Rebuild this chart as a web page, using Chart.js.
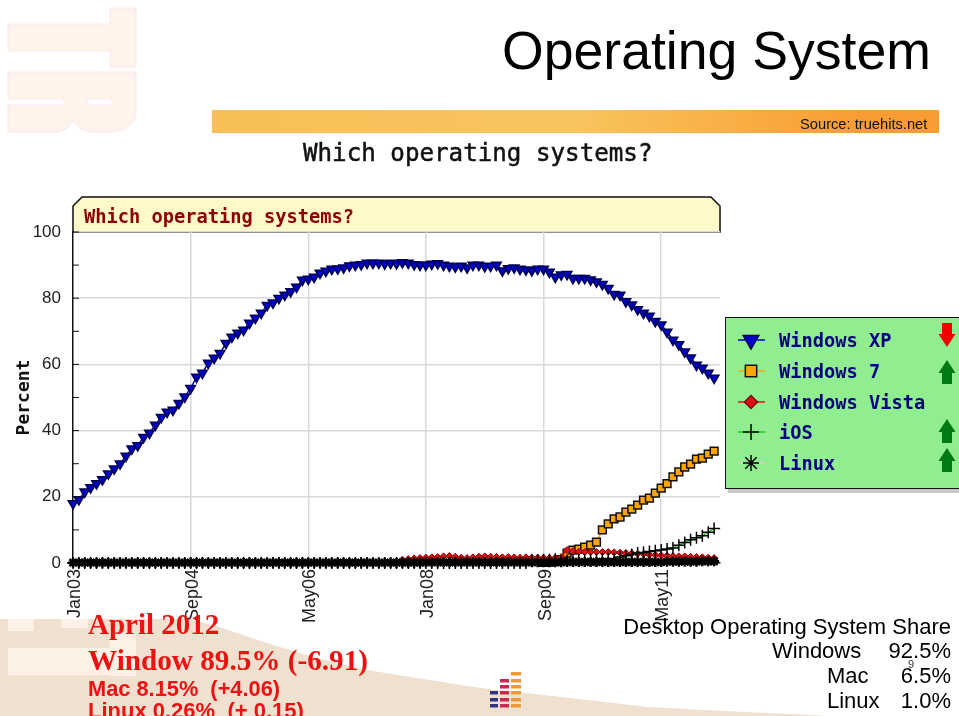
<!DOCTYPE html>
<html>
<head>
<meta charset="utf-8">
<title>Operating System</title>
<script src="https://cdn.jsdelivr.net/npm/chart.js@4"></script>
<style>
html, body { margin: 0; padding: 0; background: #fff; }
#page { position: relative; width: 959px; height: 716px; overflow: hidden; font-family: "Liberation Sans", sans-serif; }
#page > * { position: absolute; }
#bg { left: 0; top: 0; z-index: 0; }
#legendBox { left: 725px; top: 317px; width: 240px; height: 170px; background: #90ee90; border: 1.5px solid #111; box-shadow: 3px 4px 0 #c8c8c8; z-index: 1; }
#cv { left: 0; top: 0; z-index: 2; }
.t { white-space: nowrap; z-index: 3; line-height: 1; }
.pix { font-family: "DejaVu Sans Mono", monospace; font-weight: bold; font-size: 18.7px; }
.r { text-align: right; }
</style>
</head>
<body>
<div id="page">
  <svg id="bg" width="959" height="716">
    <defs>
      <linearGradient id="band" x1="0" x2="1" y1="0" y2="0">
        <stop offset="0" stop-color="#f8bf58"/>
        <stop offset="0.5" stop-color="#f9c45e"/>
        <stop offset="0.9" stop-color="#f99c32"/>
        <stop offset="1" stop-color="#f99c32"/>
      </linearGradient>
    </defs>
    <g fill="#fff4ec" stroke="#f6d8f2" stroke-width="0.6">
      <path d="M8 24H110V8H136V67H110V51H8Z"/>
      <path d="M8 72H136V115Q133 130 112 132H90Q78 130 73 120Q68 130 58 132H8V105H64V99H8Z"/>
    </g>
    <path d="M87 105H112V99H87Z" fill="#fff" stroke="#f6d8f2" stroke-width="0.6"/>
    <rect x="212" y="110" width="727" height="23" fill="url(#band)"/>
    <path d="M0 619H190Q215 625 240 634Q300 655 367 670Q430 680 480 688Q570 698 647 707Q740 712 830 716H0Z" fill="#f0e0cf"/>
    <g fill="#fdf1e6">
      <rect x="8" y="619" width="26" height="12"/>
      <rect x="61" y="619" width="27" height="9"/>
      <rect x="8" y="648" width="102" height="27"/>
      <path d="M110 632H136V676H110Z"/>
    </g>
    <g fill="#f2963a">
      <rect x="511" y="672" width="10" height="3.5"/><rect x="511" y="679" width="10" height="3.5"/><rect x="511" y="685" width="10" height="3.5"/>
      <rect x="511" y="691" width="10" height="3.5"/><rect x="511" y="698" width="10" height="3.5"/><rect x="511" y="704" width="10" height="3.5"/>
    </g>
    <g fill="#c9284f">
      <rect x="500" y="679" width="9" height="3.5"/><rect x="500" y="685" width="9" height="3.5"/>
      <rect x="500" y="691" width="9" height="3.5"/><rect x="500" y="698" width="9" height="3.5"/><rect x="500" y="704" width="9" height="3.5"/>
    </g>
    <g fill="#35357f">
      <rect x="490" y="691" width="8" height="3.5"/><rect x="490" y="698" width="8" height="3.5"/><rect x="490" y="704" width="8" height="3.5"/>
    </g>
  </svg>

  <div id="legendBox"></div>
  <canvas id="cv" width="959" height="716" style="width:959px;height:716px"></canvas>

  <div class="t" style="left:502px;top:24px;font-size:53.6px;color:#000">Operating System</div>
  <div class="t" style="left:800px;top:117px;font-size:14.7px;color:#111">Source: truehits.net</div>
  <div class="t" style="left:303px;top:141px;font-family:'DejaVu Sans Mono',monospace;font-size:24.2px;color:#111;-webkit-text-stroke:0.5px #111">Which operating systems?</div>
  <div class="t pix" style="left:84px;top:208px;color:#8b0000">Which operating systems?</div>

  <div class="t" style="left:88px;top:608px;font:bold 29px 'Liberation Serif',serif;color:#ee1111">April 2012</div>
  <div class="t" style="left:88px;top:644px;font:bold 29.2px 'Liberation Serif',serif;color:#ee1111">Window 89.5% (-6.91)</div>
  <div class="t" style="left:88px;top:676px;font:bold 21.8px 'Liberation Sans',sans-serif;color:#ee1111;white-space:pre">Mac 8.15%  (+4.06)</div>
  <div class="t" style="left:88px;top:698px;font:bold 22px 'Liberation Sans',sans-serif;color:#ee1111;white-space:pre">Linux 0.26%  (+ 0.15)</div>

  <div class="t r" style="right:8px;top:616px;font-size:22px;color:#000">Desktop Operating System Share</div>
  <div class="t" style="left:772px;top:640px;font-size:22px;color:#000">Windows</div>
  <div class="t r" style="right:8px;top:640px;font-size:22px;color:#000">92.5%</div>
  <div class="t" style="left:827px;top:665px;font-size:22px;color:#000">Mac</div>
  <div class="t r" style="right:8px;top:665px;font-size:22px;color:#000">6.5%</div>
  <div class="t" style="left:827px;top:690px;font-size:22px;color:#000">Linux</div>
  <div class="t r" style="right:8px;top:690px;font-size:22px;color:#000">1.0%</div>
  <div class="t" style="left:908px;top:659px;font-size:11px;color:#333">9</div>
</div>

<script>
const months = [
    'Jan03','Feb03','Mar03','Apr03','May03','Jun03','Jul03','Aug03','Sep03','Oct03','Nov03','Dec03',
    'Jan04','Feb04','Mar04','Apr04','May04','Jun04','Jul04','Aug04','Sep04','Oct04','Nov04','Dec04',
    'Jan05','Feb05','Mar05','Apr05','May05','Jun05','Jul05','Aug05','Sep05','Oct05','Nov05','Dec05',
    'Jan06','Feb06','Mar06','Apr06','May06','Jun06','Jul06','Aug06','Sep06','Oct06','Nov06','Dec06',
    'Jan07','Feb07','Mar07','Apr07','May07','Jun07','Jul07','Aug07','Sep07','Oct07','Nov07','Dec07',
    'Jan08','Feb08','Mar08','Apr08','May08','Jun08','Jul08','Aug08','Sep08','Oct08','Nov08','Dec08',
    'Jan09','Feb09','Mar09','Apr09','May09','Jun09','Jul09','Aug09','Sep09','Oct09','Nov09','Dec09',
    'Jan10','Feb10','Mar10','Apr10','May10','Jun10','Jul10','Aug10','Sep10','Oct10','Nov10','Dec10',
    'Jan11','Feb11','Mar11','Apr11','May11','Jun11','Jul11','Aug11','Sep11','Oct11','Nov11','Dec11',
    'Jan12','Feb12','Mar12'
];
const shownMonths = ['Jan03', 'Sep04', 'May06', 'Jan08', 'Sep09', 'May11'];
const percentTicks = [0, 20, 40, 60, 80, 100];

const windowsXP = [
    18,19.2,21.5,22.8,24,25.2,27,28.5,30,32.3,
    34.5,35.5,38,39.3,41.7,44,45.6,46.2,48.3,50.2,
    52.8,56.2,57.4,60.4,61.9,63.4,66.4,68.3,69.5,70.4,
    72.5,74,75.5,77.9,78.6,80,81,82,83.4,85.5,
    85.8,86.4,87.6,88.2,88.8,88.9,89.2,89.8,90,90.2,
    90.6,90.6,90.6,90.4,90.6,90.5,90.8,90.6,90.2,90,
    90,90.3,90.5,90,89.7,89.5,89.7,89.2,90,90,
    89.6,89.7,90,88.3,89,89.2,88.8,88.6,88.4,88.8,
    88.8,87.9,86.4,87.1,87.2,86,86,86,85.6,85,
    84.2,83,81.2,81,79,78,76.6,75.5,74.6,73,
    72,69.8,67.4,66,63.8,62,59.8,58.9,57.4,55.9
];
const windows7 = [
    0.2,0.3,0.5,1,3,3.9,4.2,4.8,5.4,6.3,
    10,11.8,13.3,13.9,15.4,16.3,17.5,19,19.6,21.1,
    22.6,24,26,27.5,29,29.9,31.4,31.7,32.9,33.8
];
const windowsVista = [
    1,1.2,1.4,1.5,1.6,1.7,1.8,2,2.1,1.9,
    1.6,1.5,1.7,1.9,2,1.9,1.8,1.7,1.8,1.7,
    1.6,1.7,1.6,1.6,1.6,1.5,1.6,1.8,3.9,3.6,
    3.4,3.3,3.3,3.3,3.3,3.3,3.2,3.1,3,2.9,
    2.8,2.7,2.5,2.4,2.3,2.2,2.1,2,2,1.9,
    1.8,1.7,1.6,1.5
];
const iOS = [
    0,0,0,0,0,0,0,0,0,0,0,0,0,0,0,0,0,0,0,0,
    0,0,0,0,0,0,0,0,0,0,0,0,0,0,0,0,0,0,0,0,
    0,0,0,0,0,0,0,0,0,0,0,0,0,0,0,0,0,0,0,0,
    0,0,0,0,0,0,0,0,0,0,0,0,0,0,0,0,0,0,
    0.8,0.9,1,1,1.1,0.7,0.8,0.8,0.9,0.9,
    1,1,1.1,1.2,1.3,1.8,2.2,2.6,3,3.2,
    3.5,3.7,3.9,4.2,4.5,5.4,6.2,7,7.6,8.2,
    9.3,10.4
];
const linux = [
    0.1,0.1,0.1,0.1,0.1,0.1,0.1,0.1,0.1,0.1,0.1,0.1,0.1,0.1,0.1,0.1,0.1,0.1,0.1,0.1,
    0.1,0.1,0.1,0.1,0.1,0.1,0.1,0.1,0.1,0.1,0.1,0.1,0.1,0.1,0.1,0.1,0.1,0.1,0.1,0.1,
    0.1,0.1,0.1,0.1,0.1,0.1,0.1,0.1,0.1,0.1,0.1,0.1,0.1,0.1,0.1,0.1,0.1,0.1,0.1,0.1,
    0.2,0.2,0.2,0.2,0.2,0.2,0.2,0.2,0.2,0.2,0.2,0.2,0.2,0.2,0.2,0.2,0.2,0.2,0.2,0.2,
    0.2,0.2,0.2,0.2,0.3,0.3,0.3,0.3,0.3,0.3,0.3,0.3,0.3,0.3,0.3,0.3,0.3,0.3,0.3,0.3,
    0.3,0.4,0.4,0.4,0.4,0.4,0.4,0.5,0.5,0.5
];

const seriesNames = ['Windows XP', 'Windows 7', 'Windows Vista', 'iOS', 'Linux'];
const trendUp = [false, true, null, true, true];
const legendRows = [340, 371, 402, 432, 463];
const legendSizes = [9, 8, 6.5, 8, 8];
const arrowRows = [335, 372, null, 431, 460];

function leadNulls(n) {
    return Array(n).fill(null);
}

function makeSet(i, data, lineColor, fill, border, style, radius, rotation, edge) {
    return {
        label: seriesNames[i],
        data: data,
        order: 4 - i,
        borderColor: lineColor,
        borderWidth: 1.5,
        pointStyle: style,
        pointRadius: radius,
        pointRotation: rotation,
        pointBackgroundColor: fill,
        pointBorderColor: border,
        pointBorderWidth: edge,
        clip: false
    };
}

// short ticks on the y axis, the legend markers and the yellow title tab
const extras = {
    id: 'extras',
    beforeDraw(chart) {
        const ctx = chart.ctx, a = chart.chartArea;
        ctx.save();
        ctx.beginPath();
        ctx.moveTo(a.left, a.top);
        ctx.lineTo(a.left, a.top - 26);
        ctx.lineTo(a.left + 9, a.top - 35);
        ctx.lineTo(a.right - 9, a.top - 35);
        ctx.lineTo(a.right, a.top - 26);
        ctx.lineTo(a.right, a.top);
        ctx.closePath();
        ctx.fillStyle = '#fdf9c8';
        ctx.fill();
        ctx.lineWidth = 1.5;
        ctx.strokeStyle = '#111';
        ctx.stroke();
        ctx.restore();
    },
    afterDraw(chart) {
        const ctx = chart.ctx, a = chart.chartArea, y = chart.scales.y;
        ctx.save();
        ctx.strokeStyle = '#111';
        ctx.lineWidth = 1;
        y.ticks.forEach(t => {
            const py = y.getPixelForValue(t.value);
            ctx.beginPath();
            ctx.moveTo(a.left, py);
            ctx.lineTo(a.left + 6, py);
            ctx.stroke();
        });
        chart.data.datasets.forEach((ds, i) => {
            ctx.strokeStyle = ds.borderColor;
            ctx.lineWidth = 1.5;
            ctx.beginPath();
            ctx.moveTo(738, legendRows[i]);
            ctx.lineTo(765, legendRows[i]);
            ctx.stroke();
            ctx.fillStyle = ds.pointBackgroundColor;
            ctx.strokeStyle = ds.pointBorderColor;
            ctx.lineWidth = 1.5;
            Chart.helpers.drawPoint(ctx, {
                pointStyle: ds.pointStyle,
                rotation: ds.pointRotation,
                radius: legendSizes[i],
                borderWidth: 1.5
            }, 751, legendRows[i]);
        });
        // trend arrows
        trendUp.forEach((up, i) => {
            if (up === null) return;
            const cy = arrowRows[i], x = 947, d = up ? -1 : 1;
            ctx.fillStyle = up ? '#007a14' : '#f40000';
            ctx.beginPath();
            ctx.moveTo(x, cy + 12 * d);
            ctx.lineTo(x - 8.5, cy - d);
            ctx.lineTo(x - 5, cy - d);
            ctx.lineTo(x - 5, cy - 12 * d);
            ctx.lineTo(x + 5, cy - 12 * d);
            ctx.lineTo(x + 5, cy - d);
            ctx.lineTo(x + 8.5, cy - d);
            ctx.closePath();
            ctx.fill();
        });
        ctx.restore();
    }
};

const chart = new Chart(document.getElementById('cv'), {
    type: 'line',
    data: {
        labels: months,
        datasets: [
            makeSet(0, windowsXP, '#0000cc', '#0000cc', '#000050', 'triangle', 5.5, 180, 1.5),
            makeSet(1, leadNulls(80).concat(windows7), '#ffa500', '#ffa500', '#111', 'rect', 5.5, 0, 1.5),
            makeSet(2, leadNulls(56).concat(windowsVista), '#ee1111', '#dd1111', '#880000', 'rectRot', 3.5, 0, 1),
            makeSet(3, iOS, '#22cc22', '#000', '#000', 'cross', 6, 0, 1.5),
            makeSet(4, linux, '#e6c8c0', '#000', '#000', 'star', 5, 0, 2.5)
        ]
    },
    options: {
        responsive: false,
        animation: false,
        layout: { padding: { left: 0, right: 239, top: 232, bottom: 0 } },
        plugins: {
            legend: { display: false },
            tooltip: { enabled: false }
        },
        scales: {
            x: {
                afterFit(scale) { scale.height = 153; },
                grid: {
                    drawTicks: false,
                    lineWidth: 1.5,
                    color: c => (c.index > 0 && shownMonths.includes(months[c.index]) ? '#d8d8d8' : 'transparent')
                },
                border: { color: '#111', width: 1.5 },
                ticks: {
                    autoSkip: false,
                    minRotation: 90,
                    maxRotation: 90,
                    padding: 6,
                    labelOffset: 2,
                    color: '#222',
                    font: { family: 'Liberation Sans', size: 18 },
                    callback(v) {
                        const m = this.getLabelForValue(v);
                        return shownMonths.includes(m) ? m : '';
                    }
                }
            },
            y: {
                min: 0,
                max: 100,
                afterFit(scale) { scale.width = 73; },
                grid: {
                    drawTicks: false,
                    lineWidth: 1.5,
                    color: c => (c.tick.value > 0 && percentTicks.includes(c.tick.value) ? '#d8d8d8' : 'transparent')
                },
                border: { color: '#111', width: 1.5 },
                title: {
                    display: true,
                    text: 'Percent',
                    color: '#111',
                    font: { family: 'DejaVu Sans Mono', size: 18, weight: 'bold' },
                    padding: { top: 14, bottom: 0 }
                },
                ticks: {
                    stepSize: 10,
                    autoSkip: false,
                    padding: 12,
                    color: '#222',
                    font: { family: 'Liberation Sans', size: 17 },
                    callback: v => (percentTicks.includes(v) ? v : '')
                }
            }
        }
    },
    plugins: [extras]
});

// legend labels come from the same names as the datasets
seriesNames.forEach((name, i) => {
    const el = document.createElement('div');
    el.className = 't pix';
    el.style.left = '779px';
    el.style.top = (legendRows[i] - 8) + 'px';
    el.style.color = '#000080';
    el.textContent = name;
    document.getElementById('page').appendChild(el);
});
</script>
</body>
</html>
